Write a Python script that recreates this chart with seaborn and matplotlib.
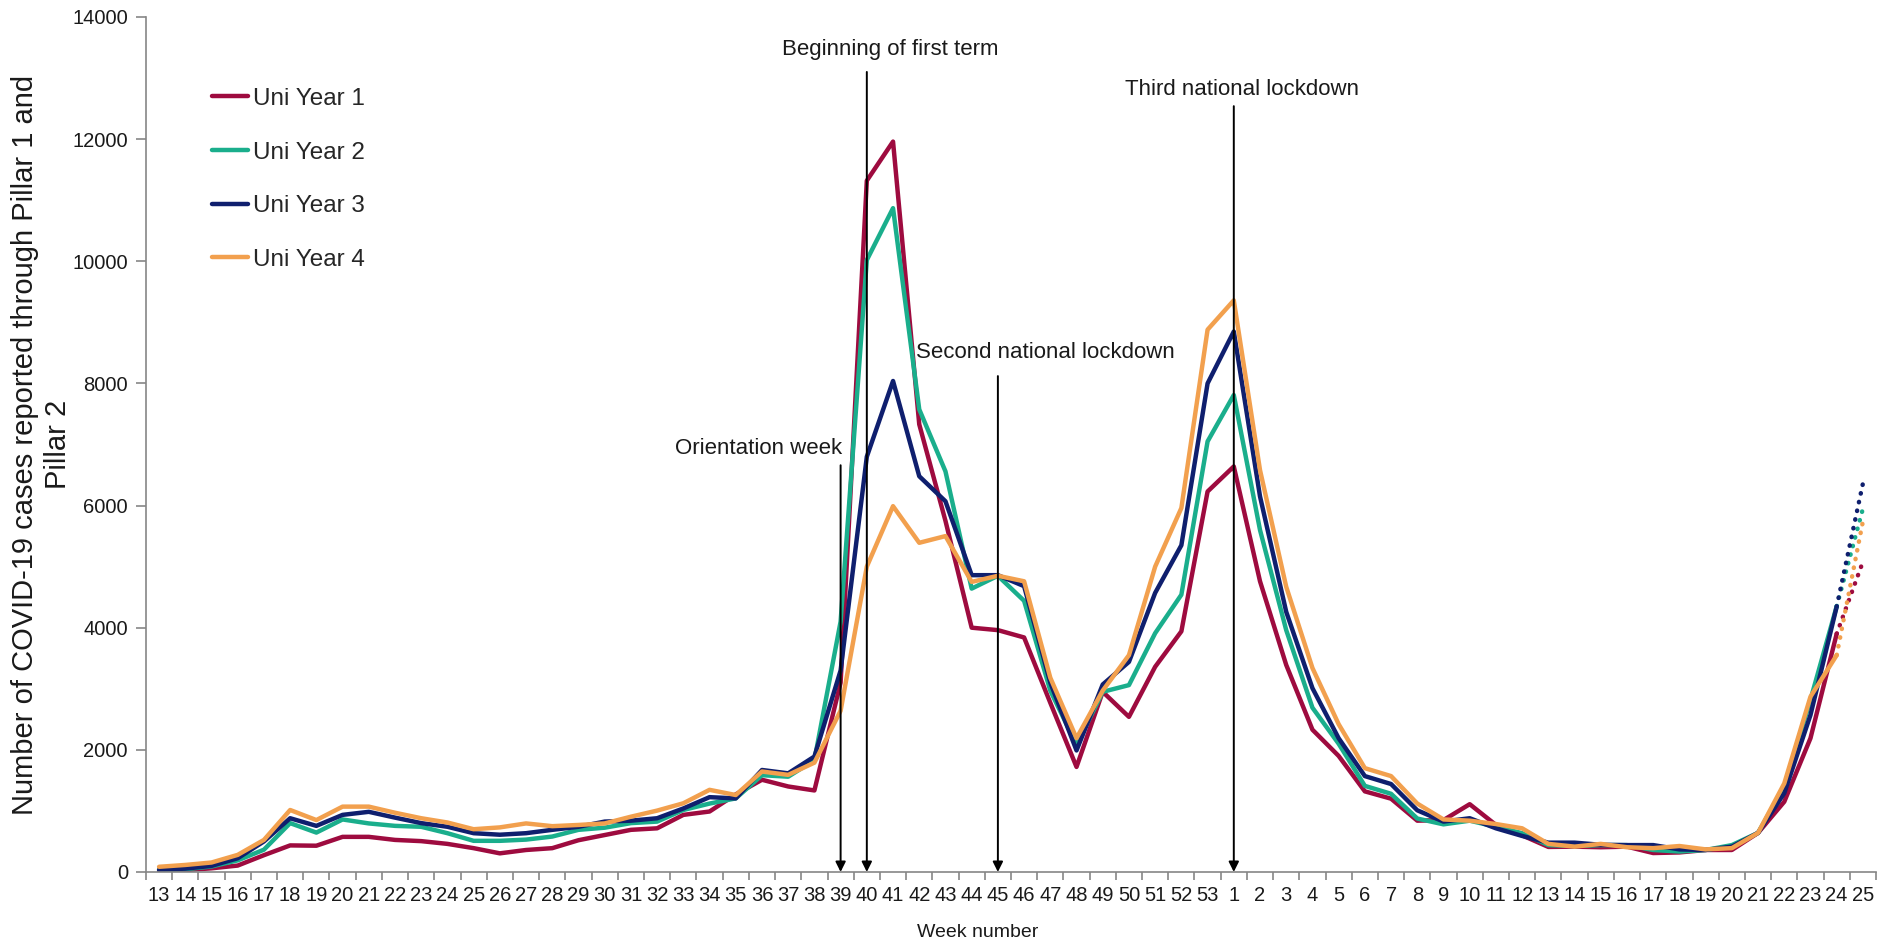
import numpy as np
import pandas as pd
import seaborn as sns
import matplotlib.pyplot as plt

# week axis: 2020 weeks 13-53 followed by 2021 weeks 1-25
weeks_2020 = list(range(13, 54))
weeks_2021 = list(range(1, 26))
week_labels = [str(w) for w in weeks_2020 + weeks_2021]

series_names = ["Uni Year 1", "Uni Year 2", "Uni Year 3", "Uni Year 4"]

year1 = [20, 30, 60, 105, 275, 435, 430, 575, 575, 525, 505, 460, 390, 305, 360, 390,
         520, 605, 690, 715, 935, 990, 1270, 1510, 1400, 1335, 3100, 11320, 11960, 7330,
         5750, 4000, 3960, 3840, 2770, 1720, 2950, 2540, 3360, 3940, 6230,
         6640, 4760, 3390, 2330, 1900, 1320, 1200, 840, 850, 1110, 770, 600, 410, 415,
         405, 415, 310, 320, 360, 360, 640, 1150, 2190, 3900, 5080]
year2 = [35, 45, 90, 190, 365, 800, 645, 860, 795, 755, 740, 635, 510, 510, 530, 580,
         690, 725, 800, 825, 1015, 1120, 1205, 1585, 1560, 1830, 4100, 10020, 10870, 7575,
         6560, 4640, 4850, 4440, 2970, 2080, 2950, 3060, 3910, 4540, 7050,
         7810, 5600, 3960, 2690, 2100, 1410, 1280, 875, 780, 840, 740, 635, 440, 425,
         440, 440, 360, 335, 360, 440, 640, 1400, 2820, 4350, 5950]
year3 = [35, 55, 100, 225, 500, 880, 755, 935, 985, 890, 800, 740, 635, 610, 635, 690,
         740, 825, 840, 880, 1040, 1225, 1205, 1670, 1615, 1890, 3300, 6800, 8040, 6480,
         6070, 4860, 4860, 4680, 3100, 1990, 3070, 3440, 4570, 5350, 8000,
         8850, 6150, 4260, 3010, 2190, 1570, 1440, 1010, 825, 880, 715, 590, 480, 480,
         445, 440, 440, 370, 360, 415, 640, 1290, 2570, 4345, 6360]
year4 = [85, 115, 155, 280, 525, 1015, 850, 1070, 1070, 970, 880, 810, 700, 730, 795, 750,
         770, 795, 905, 1005, 1125, 1345, 1260, 1645, 1590, 1790, 2640, 5000, 5990, 5390,
         5500, 4750, 4850, 4760, 3180, 2190, 2970, 3550, 5000, 5960, 8880,
         9360, 6580, 4670, 3340, 2420, 1700, 1570, 1120, 860, 840, 785, 715, 460, 415,
         460, 405, 390, 425, 370, 390, 640, 1450, 2870, 3550, 5740]

colors = ["#9E0B3F", "#1AAE8C", "#0F1F6E", "#F2A04E"]

event_labels = ["Orientation week", "Beginning of first term",
                "Second national lockdown", "Third national lockdown"]
event_weeks = ["39", "40", "45", "1"]

pos = np.arange(len(week_labels))
df = pd.DataFrame({
    "pos": np.tile(pos, 4),
    "cases": np.concatenate([year1, year2, year3, year4]),
    "series": np.repeat(series_names, len(pos)),
})
last = len(pos) - 1

sns.set_style("ticks")
plt.rcParams["font.family"] = ["Liberation Sans", "DejaVu Sans"]

fig = plt.figure(figsize=(18.86, 9.44), dpi=100)
ax = fig.add_axes([0.0774, 0.0763, 0.9173, 0.9057])

palette = dict(zip(series_names, colors))
# solid up to week 24, dotted for the last (incomplete) week
sns.lineplot(data=df[df.pos < last], x="pos", y="cases", hue="series",
             palette=palette, linewidth=3.2, solid_joinstyle="round", ax=ax)
sns.lineplot(data=df[df.pos >= last - 1], x="pos", y="cases", hue="series",
             palette=palette, linewidth=3.2, linestyle=(0, (0.1, 1.9)),
             dash_capstyle="round", legend=False, ax=ax)

# event arrows
arrow_tops = [6660, 13100, 8120, 12540]
text_spots = [(26.05, 6930, "right"), (27.9, 13460, "center"),
              (33.8, 8500, "center"), (41.3, 12820, "center")]
for lab, wk, top, (tx, ty, ha) in zip(event_labels, event_weeks, arrow_tops, text_spots):
    i = week_labels.index(wk)
    ax.annotate("", xy=(i, 0), xytext=(i, top),
                arrowprops=dict(arrowstyle="-|>", color="black", lw=1.4,
                                mutation_scale=15, shrinkA=0, shrinkB=0))
    ax.text(tx, ty, lab, ha=ha, va="center", fontsize=16, color="#1a1a1a")

ax.set_xlim(-0.5, last + 0.5)
ax.set_ylim(0, 14000)
ax.set_yticks(range(0, 14001, 2000))
ax.set_xticks(pos)
ax.set_xticklabels(week_labels)
ax.set_xticks(np.arange(-0.5, last + 1), minor=True)

axis_grey = "#868686"
ax.tick_params(axis="x", which="major", length=0, pad=10, labelsize=14.5, labelcolor="#1a1a1a")
ax.tick_params(axis="x", which="minor", length=6, width=1.2, color=axis_grey)
ax.tick_params(axis="y", length=7, width=1.2, color=axis_grey, pad=6, labelsize=14.5,
               labelcolor="#1a1a1a")
sns.despine(ax=ax)
for side in ["left", "bottom"]:
    ax.spines[side].set_color(axis_grey)
    ax.spines[side].set_linewidth(1.2)

ax.set_xlabel("Week number", fontsize=14, color="#1a1a1a")
ax.xaxis.set_label_coords(0.481, -0.061)
ax.set_ylabel("Number of COVID-19 cases reported through Pillar 1 and\nPillar 2",
              fontsize=21, color="#1a1a1a")
ax.yaxis.set_label_coords(-0.043, 0.5)

handles, labels = ax.get_legend_handles_labels()
ax.legend(handles, labels, loc="upper left", bbox_to_anchor=(0.038, 0.917),
          frameon=False, fontsize=17.5, handlelength=1.5, handletextpad=0.2,
          labelspacing=1.3, borderpad=0, borderaxespad=0)

fig.savefig("out.png", dpi=100)
